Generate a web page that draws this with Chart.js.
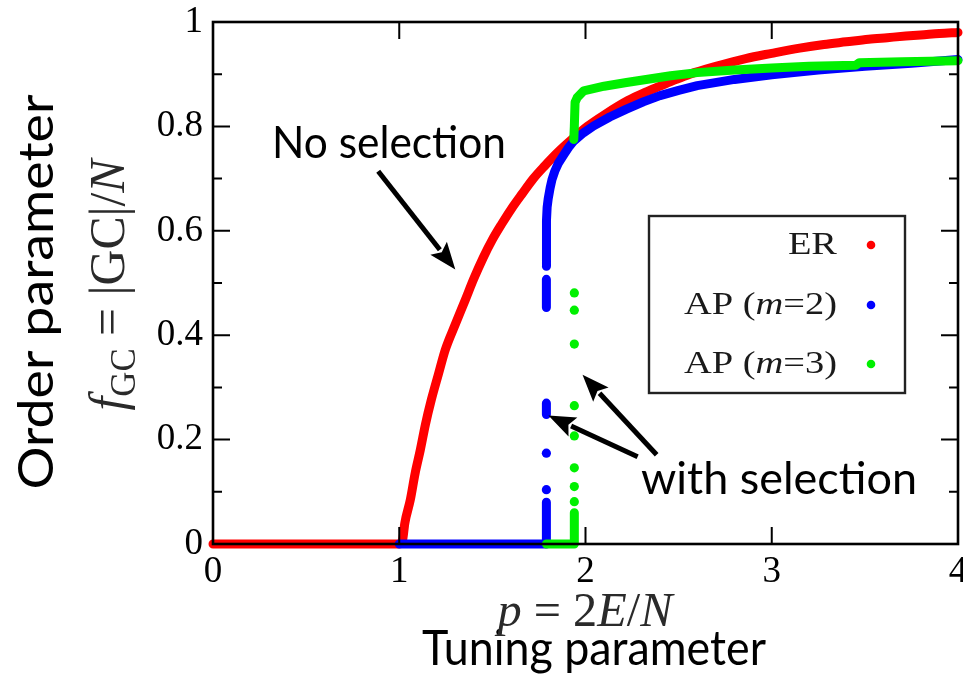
<!DOCTYPE html>
<html>
<head>
<meta charset="utf-8">
<script src="https://cdn.jsdelivr.net/npm/chart.js@4.4.1/dist/chart.umd.min.js"></script>
<style>
  html, body { margin: 0; padding: 0; background: #fff; }
  #wrap { width: 963px; height: 678px; }
</style>
</head>
<body>
<div id="wrap"><canvas id="c" width="963" height="678"></canvas></div>
<script>
// Giant-component fraction f_GC versus mean degree p = 2E/N.

// Erdős–Rényi (no selection)
const erP = [0, 1.0, 1.018, 1.03, 1.059, 1.085, 1.113, 1.14, 1.172, 1.21, 1.247, 1.30, 1.355, 1.40, 1.45, 1.50, 1.55, 1.60, 1.66, 1.72, 1.78, 1.85, 1.93, 2.01, 2.10, 2.23, 2.32, 2.40, 2.48, 2.56, 2.70, 2.86, 3.00, 3.15, 3.28, 3.40, 3.52, 3.62, 3.72, 3.80, 3.90, 4.0];
const erF = [0, 0, 0.008, 0.04, 0.084, 0.135, 0.18, 0.228, 0.276, 0.325, 0.372, 0.42, 0.468, 0.508, 0.548, 0.583, 0.613, 0.641, 0.671, 0.70, 0.724, 0.75, 0.776, 0.80, 0.822, 0.85, 0.865, 0.877, 0.889, 0.90, 0.915, 0.93, 0.94, 0.95, 0.957, 0.962, 0.967, 0.97, 0.973, 0.975, 0.978, 0.98];

// Achlioptas process, m = 2 (null marks a break in the trace)
const ap2P = [1.0, 1.79, 1.79, 1.79, 1.79, 1.79, 1.79, 1.79, 1.79, 1.79, 1.79, 1.79, 1.791, 1.794, 1.80, 1.81, 1.82, 1.835, 1.855, 1.884, 1.91, 1.937, 1.99, 2.044, 2.13, 2.22, 2.31, 2.40, 2.50, 2.60, 2.80, 3.00, 3.25, 3.50, 3.75, 4.0];
const ap2F = [0, 0, 0.08, null, 0.248, 0.27, null, 0.453, 0.507, null, 0.532, 0.60, 0.62, 0.645, 0.662, 0.682, 0.698, 0.714, 0.73, 0.746, 0.76, 0.772, 0.788, 0.801, 0.818, 0.833, 0.847, 0.859, 0.869, 0.878, 0.89, 0.899, 0.908, 0.915, 0.921, 0.928];
const ap2DotP = [1.79, 1.79];
const ap2DotF = [0.104, 0.174];

// Achlioptas process, m = 3
const ap3P = [1.79, 1.94, 1.94, 1.94, 1.937, 1.94, 1.944, 1.955, 1.99, 2.10, 2.22, 2.457, 2.60, 2.80, 3.00, 3.20, 3.45, 3.47, 3.70, 4.0];
const ap3F = [0, 0, 0.06, null, 0.775, 0.80, 0.846, 0.855, 0.868, 0.877, 0.884, 0.897, 0.903, 0.908, 0.912, 0.915, 0.917, 0.922, 0.924, 0.926];
const ap3DotP = [1.94, 1.94, 1.94, 1.94, 1.94, 1.94, 1.94, 1.94];
const ap3DotF = [0.081, 0.11, 0.146, 0.207, 0.265, 0.383, 0.448, 0.481];

// Axis ticks
const xMajorTicks = [0, 1, 2, 3, 4];
const yMajorTicks = [0, 0.2, 0.4, 0.6, 0.8, 1];
const yMinorTicks = [0.1, 0.3, 0.5, 0.7, 0.9];

// Legend rows: [text before italic, italic part, text after]
const legendRows = [['ER', '', ''], ['AP (', 'm', '=2)'], ['AP (', 'm', '=3)']];
const seriesColors = ['#ff0000', '#0000ff', '#00f000'];

const SERIF = '"Liberation Serif", "Times New Roman", serif';
const SANS = 'Lato, "Open Sans", sans-serif';

const pts = (P, F) => P.map((p, i) => ({ x: p, y: F[i] }));

function lineSet(label, P, F, color, order, smooth) {
  return {
    label, data: pts(P, F), showLine: true, spanGaps: false,
    borderColor: color, backgroundColor: color, borderWidth: 9,
    borderCapStyle: 'round', borderJoinStyle: 'round',
    cubicInterpolationMode: smooth ? 'monotone' : 'default',
    pointRadius: 0, pointHoverRadius: 0, clip: false, order
  };
}
function dotSet(label, P, F, color, order) {
  return {
    label, data: pts(P, F), showLine: false,
    pointRadius: 4.6, pointHoverRadius: 4.6, pointBorderWidth: 0,
    pointBackgroundColor: color, borderColor: color, clip: false, order
  };
}

const datasets = [
  lineSet('ER', erP, erF, seriesColors[0], 3, true),
  lineSet('AP (m=2)', ap2P, ap2F, seriesColors[1], 2, false),
  dotSet('AP (m=2) points', ap2DotP, ap2DotF, seriesColors[1], 2),
  lineSet('AP (m=3)', ap3P, ap3F, seriesColors[2], 1, false),
  dotSet('AP (m=3) points', ap3DotP, ap3DotF, seriesColors[2], 1)
];

// Annotation arrows in data coordinates: [from p, from f, to p, to f]
const noSelArrow = [0.887, 0.714, 1.301, 0.526];
const withSelArrows = [[2.28, 0.167, 1.801, 0.246], [2.382, 0.171, 1.984, 0.324]];

// Sans text drawn at a given size, squeezed horizontally to a given width
function squeezedText(ctx, text, size, width, x, y, align) {
  ctx.font = size + 'px ' + SANS;
  const w = ctx.measureText(text).width;
  const k = width / w;
  ctx.save();
  ctx.translate(x, y);
  ctx.scale(k, 1);
  ctx.textAlign = align;
  ctx.fillText(text, 0, 0);
  ctx.restore();
}

function drawArrow(ctx, x0, y0, x1, y1) {
  const a = Math.atan2(y1 - y0, x1 - x0);
  const L = 27, W = 10.5;
  const bx = x1 - L * Math.cos(a), by = y1 - L * Math.sin(a);
  ctx.beginPath();
  ctx.moveTo(x0, y0);
  ctx.lineTo(bx + 2 * Math.cos(a), by + 2 * Math.sin(a));
  ctx.lineWidth = 5;
  ctx.lineCap = 'butt';
  ctx.stroke();
  ctx.beginPath();
  ctx.moveTo(x1, y1);
  ctx.lineTo(bx - W * Math.sin(a), by + W * Math.cos(a));
  ctx.lineTo(bx + 5 * Math.cos(a), by + 5 * Math.sin(a));
  ctx.lineTo(bx + W * Math.sin(a), by - W * Math.cos(a));
  ctx.closePath();
  ctx.fill();
}

// A run of pieces: [text, italic?, sizeScale, baselineShift]
function runWidth(ctx, pieces, size) {
  let w = 0;
  for (const [t, it, sc] of pieces) {
    ctx.font = (it ? 'italic ' : '') + (size * sc) + 'px ' + SERIF;
    w += ctx.measureText(t).width;
  }
  return w;
}
function drawRun(ctx, pieces, size, x, y) {
  for (const [t, it, sc, dy] of pieces) {
    ctx.font = (it ? 'italic ' : '') + (size * sc) + 'px ' + SERIF;
    ctx.fillText(t, x, y + dy * size);
    x += ctx.measureText(t).width;
  }
}

const decor = {
  id: 'decor',
  afterDraw(chart) {
    const { ctx, chartArea: a, scales: { x, y } } = chart;
    ctx.save();
    ctx.strokeStyle = '#000';
    ctx.fillStyle = '#000';

    // inward ticks on all four sides
    ctx.lineWidth = 2;
    const major = 17, minor = 9;
    ctx.beginPath();
    for (const v of yMajorTicks.slice(1, -1)) {
      const py = y.getPixelForValue(v);
      ctx.moveTo(a.left, py); ctx.lineTo(a.left + major, py);
      ctx.moveTo(a.right, py); ctx.lineTo(a.right - major, py);
    }
    for (const v of yMinorTicks) {
      const py = y.getPixelForValue(v);
      ctx.moveTo(a.left, py); ctx.lineTo(a.left + minor, py);
      ctx.moveTo(a.right, py); ctx.lineTo(a.right - minor, py);
    }
    for (const v of xMajorTicks.slice(1, -1)) {
      const px = x.getPixelForValue(v);
      ctx.moveTo(px, a.bottom); ctx.lineTo(px, a.bottom - major);
      ctx.moveTo(px, a.top); ctx.lineTo(px, a.top + major);
    }
    ctx.stroke();

    // frame
    ctx.lineWidth = 2.6;
    ctx.strokeRect(a.left, a.top, a.right - a.left, a.bottom - a.top);

    // legend
    const lx0 = 649, ly0 = 216, lx1 = 905, ly1 = 393;
    ctx.fillStyle = '#fff';
    ctx.fillRect(lx0, ly0, lx1 - lx0, ly1 - ly0);
    ctx.strokeStyle = '#222';
    ctx.lineWidth = 2.4;
    ctx.strokeRect(lx0, ly0, lx1 - lx0, ly1 - ly0);
    const lsize = 31;
    const rowY = [245, 305, 364];
    const rowPieces = legendRows.map(r => [[r[0], false, 1, 0], [r[1], true, 1, 0], [r[2], false, 1, 0]]);
    const stretch = 153 / runWidth(ctx, rowPieces[1], lsize);
    rowPieces.forEach((pieces, i) => {
      const w = runWidth(ctx, pieces, lsize);
      ctx.save();
      ctx.translate(837, rowY[i] + 1);
      ctx.scale(stretch, 1);
      ctx.fillStyle = '#1a1a1a';
      ctx.textBaseline = 'middle';
      ctx.textAlign = 'left';
      drawRun(ctx, pieces, lsize, -w, 0);
      ctx.restore();
      ctx.fillStyle = seriesColors[i];
      ctx.beginPath();
      ctx.arc(871, rowY[i], 4.3, 0, Math.PI * 2);
      ctx.fill();
    });

    // annotation arrows
    ctx.fillStyle = '#000';
    ctx.strokeStyle = '#000';
    const P = (p, f) => [x.getPixelForValue(p), y.getPixelForValue(f)];
    {
      const [x0, y0] = P(noSelArrow[0], noSelArrow[1]);
      const [x1, y1] = P(noSelArrow[2], noSelArrow[3]);
      drawArrow(ctx, x0, y0, x1, y1);
    }
    for (const ar of withSelArrows) {
      const [x0, y0] = P(ar[0], ar[1]);
      const [x1, y1] = P(ar[2], ar[3]);
      drawArrow(ctx, x0, y0, x1, y1);
    }

    // annotation texts
    ctx.textBaseline = 'alphabetic';
    squeezedText(ctx, 'No selection', 45, 234, 272, 158, 'left');
    squeezedText(ctx, 'with selection', 45, 276, 641, 494, 'left');

    // x-axis titles
    squeezedText(ctx, 'Tuning parameter', 48, 344, 594, 665, 'center');

    ctx.textAlign = 'left';
    ctx.fillStyle = '#2a2a2a';
    const pPieces = [['p', true, 1, 0], [' = 2', false, 1, 0], ['E', true, 1, 0], ['/', false, 1, 0], ['N', true, 1, 0]];
    let ms = 32;
    let w = runWidth(ctx, pPieces, ms);
    ms = ms * 175 / w;
    w = runWidth(ctx, pPieces, ms);
    drawRun(ctx, pPieces, ms, 585 - w / 2, 626);

    // y-axis titles (rotated, reading upward)
    ctx.save();
    ctx.translate(53, 292);
    ctx.rotate(-Math.PI / 2);
    ctx.fillStyle = '#000';
    squeezedText(ctx, 'Order parameter', 48, 395, 0, 0, 'center');
    ctx.restore();

    ctx.save();
    ctx.translate(124, 285);
    ctx.rotate(-Math.PI / 2);
    ctx.fillStyle = '#2a2a2a';
    ctx.textAlign = 'left';
    const fPieces = [['f', true, 1, 0], ['GC', false, 0.7, 0.22], [' = |GC|/', false, 1, 0], ['N', true, 1, 0]];
    ms = 32;
    w = runWidth(ctx, fPieces, ms);
    ms = ms * 251 / w;
    w = runWidth(ctx, fPieces, ms);
    drawRun(ctx, fPieces, ms, -w / 2, 0);
    ctx.restore();

    ctx.restore();
  }
};

const tickText = v => String(Math.round(v * 10) / 10);

new Chart(document.getElementById('c'), {
  type: 'scatter',
  data: { datasets },
  options: {
    responsive: false,
    animation: false,
    devicePixelRatio: 1,
    events: [],
    layout: { padding: { top: 22, right: 5, left: 0, bottom: 0 } },
    plugins: { legend: { display: false }, tooltip: { enabled: false } },
    scales: {
      x: {
        type: 'linear', min: 0, max: 4,
        afterBuildTicks(s) { s.ticks = xMajorTicks.map(v => ({ value: v })); },
        ticks: { color: '#000', padding: 6, maxRotation: 0, autoSkip: false, callback: tickText, font: { family: SERIF, size: 37 } },
        grid: { display: false, drawTicks: false },
        border: { display: false },
        afterFit(s) { s.height = 134; s.paddingLeft = 0; s.paddingRight = 0; }
      },
      y: {
        type: 'linear', min: 0, max: 1,
        afterBuildTicks(s) { s.ticks = yMajorTicks.map(v => ({ value: v })); },
        ticks: { color: '#000', padding: 10, autoSkip: false, callback: tickText, font: { family: SERIF, size: 37 } },
        grid: { display: false, drawTicks: false },
        border: { display: false },
        afterFit(s) { s.width = 213; s.paddingTop = 0; s.paddingBottom = 0; }
      }
    }
  },
  plugins: [decor]
});
</script>
</body>
</html>
